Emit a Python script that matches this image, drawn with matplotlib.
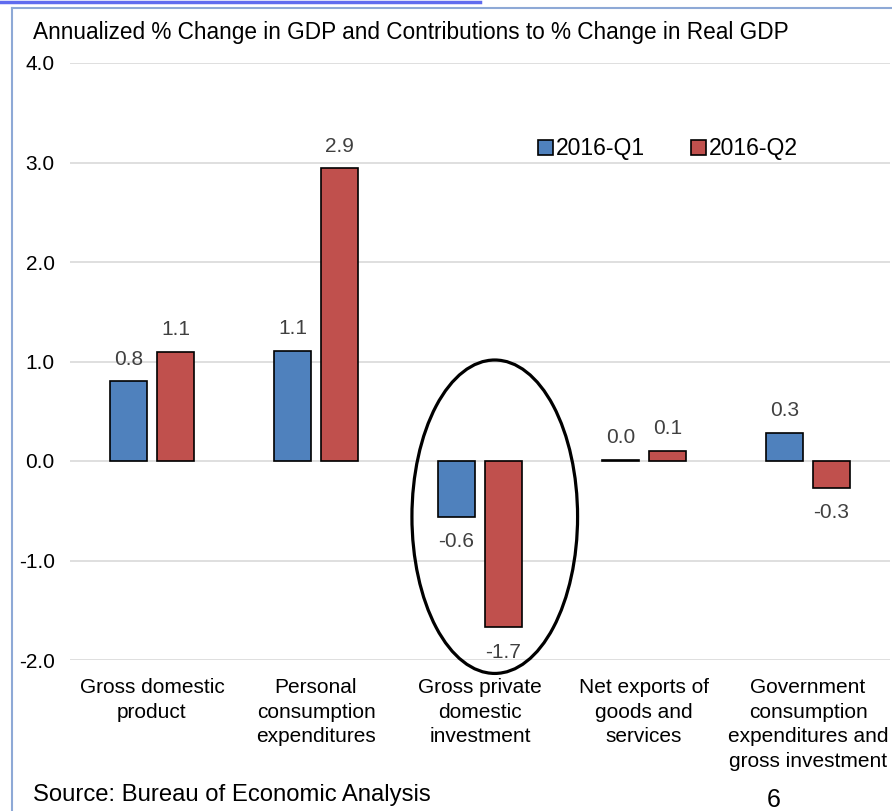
import matplotlib.pyplot as plt
import numpy as np
from matplotlib.patches import Ellipse, Rectangle
from matplotlib.lines import Line2D

plt.rcParams["font.family"] = ["Liberation Sans", "DejaVu Sans"]

categories = [
    "Gross domestic\nproduct",
    "Personal\nconsumption\nexpenditures",
    "Gross private\ndomestic\ninvestment",
    "Net exports of\ngoods and\nservices",
    "Government\nconsumption\nexpenditures and\ngross investment",
]
q1 = [0.80, 1.11, -0.56, 0.01, 0.28]
q2 = [1.10, 2.94, -1.67, 0.10, -0.27]
series_names = ["2016-Q1", "2016-Q2"]
yticks = [-2.0, -1.0, 0.0, 1.0, 2.0, 3.0, 4.0]

blue = "#4F81BD"
red = "#C0504D"
label_color = "#404040"

fig = plt.figure(figsize=(8.92, 8.11), dpi=100)

# page frame
fig.add_artist(Line2D([0, 480 / 892], [1 - 1.5 / 811] * 2, color="#5F6BEF", lw=2.5))
fig.add_artist(Line2D([12 / 892, 12 / 892], [0, 1 - 8 / 811], color="#8EA9D6", lw=1.5))
fig.add_artist(Line2D([12 / 892, 1], [1 - 8 / 811] * 2, color="#8EA9D6", lw=1.5))

ax = fig.add_axes([70 / 892, (811 - 660) / 811, 820 / 892, 597 / 811])

x = np.arange(len(categories))
w = 0.226
off = 0.143
b1 = ax.bar(x - off, q1, w, color=blue, edgecolor="black", linewidth=1.2, zorder=3)
b2 = ax.bar(x + off, q2, w, color=red, edgecolor="black", linewidth=1.2, zorder=3)

for bars, vals in ((b1, q1), (b2, q2)):
    for rect, v in zip(bars, vals):
        cx = rect.get_x() + rect.get_width() / 2
        dy = 16 if v >= 0 else -18
        ax.annotate(f"{v:.1f}", (cx, v), xytext=(0, dy), textcoords="offset points",
                    ha="center", va="center", fontsize=15, color=label_color)

ax.set_ylim(-2, 4)
ax.set_xlim(-0.5, len(categories) - 0.5)
ax.set_yticks(yticks)
ax.set_yticklabels([f"{t:.1f}" for t in yticks], fontsize=15)
ax.set_xticks(x)
ax.set_xticklabels(categories, fontsize=15, linespacing=1.38)
ax.tick_params(axis="both", length=0)
ax.tick_params(axis="y", pad=11)
ax.tick_params(axis="x", pad=13)
ax.grid(axis="y", color="#D9D9D9", linewidth=1.2, zorder=0)
for s in ax.spines.values():
    s.set_visible(False)

# highlight around investment
ax.add_patch(Ellipse((2.09, -0.56), 1.01, 3.15, fill=False, edgecolor="black",
                     linewidth=2.3, zorder=4, clip_on=False))

handles = [Rectangle((0, 0), 1, 1, facecolor=c, edgecolor="black", linewidth=1.2)
           for c in (blue, red)]
ax.legend(handles, series_names, loc="center left", bbox_to_anchor=(0.571, 0.856),
          ncol=2, frameon=False, fontsize=16.5, handlelength=0.65, handleheight=0.65,
          handletextpad=0.12, columnspacing=2.0, borderaxespad=0, borderpad=0)

fig.text(33 / 892, 1 - 32 / 811, "Annualized % Change in GDP and Contributions to % Change in Real GDP",
         fontsize=16.3, va="center", ha="left")
fig.text(33 / 892, 1 - 795 / 811, "Source: Bureau of Economic Analysis", fontsize=17.2,
         va="center", ha="left")
fig.text(774 / 892, 1 - 800 / 811, "6", fontsize=18, va="center", ha="center")

fig.savefig("out.png", dpi=100)
